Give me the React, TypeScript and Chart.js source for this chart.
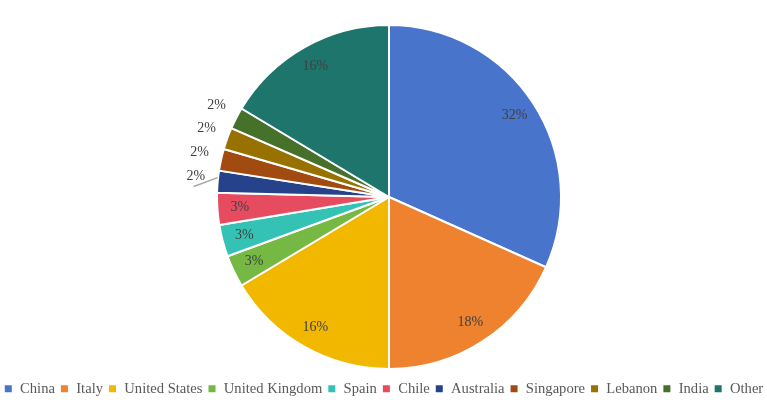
import React, { useEffect, useRef } from "react";
import { Chart, registerables } from "chart.js";

Chart.register(...registerables);

const categories = ["China", "Italy", "United States", "United Kingdom", "Spain", "Chile", "Australia", "Singapore", "Lebanon", "India", "Other"];
const values = [31.7, 18.3, 16.4, 3.0, 3.0, 3.0, 2.05, 2.05, 2.05, 2.05, 16.4];
const labelTexts = ["32%", "18%", "16%", "3%", "3%", "3%", "2%", "2%", "2%", "2%", "16%"];
const outsideLabel = [false, false, false, false, false, false, true, true, true, true, false];
const colors = ["#4874CB", "#EE822F", "#F2B800", "#75B843", "#33C2B4", "#E64B5F", "#25428A", "#A14B10", "#977200", "#46712B", "#1E756C"];

const areaPlugin = {
  id: "pieArea",
  afterLayout(chart: any) {
    const a = chart.chartArea;
    a.left = 11;
    a.right = 767;
    a.top = 24;
    a.bottom = 370;
    a.width = a.right - a.left;
    a.height = a.bottom - a.top;
  },
};

const labelPlugin = {
  id: "sliceLabels",
  afterDatasetsDraw(chart: any) {
    const ctx = chart.ctx;
    const meta = chart.getDatasetMeta(0);
    ctx.save();
    ctx.font = '14px "Liberation Serif", serif';
    ctx.fillStyle = "#404040";
    ctx.textAlign = "center";
    ctx.textBaseline = "middle";
    meta.data.forEach((arc: any, i: number) => {
      const { x, y, startAngle, endAngle, outerRadius } = arc.getProps(["x", "y", "startAngle", "endAngle", "outerRadius"], true);
      const mid = (startAngle + endAngle) / 2;
      const cos = Math.cos(mid);
      const sin = Math.sin(mid);
      if (outsideLabel[i]) {
        const r = outerRadius + 22;
        ctx.fillText(labelTexts[i], x + cos * r, y + sin * r - 3);
        if (i === 6) {
          ctx.strokeStyle = "#A6A6A6";
          ctx.lineWidth = 1.5;
          ctx.beginPath();
          ctx.moveTo(x + cos * outerRadius, y + sin * outerRadius - 4);
          ctx.lineTo(x + cos * (outerRadius + 24), y + sin * (outerRadius + 24) + 7);
          ctx.stroke();
        }
      } else {
        const r = outerRadius * 0.87;
        ctx.fillText(labelTexts[i], x + cos * r, y + sin * r);
      }
    });
    ctx.restore();
  },
};

export default function App() {
  const ref = useRef<HTMLCanvasElement>(null);
  useEffect(() => {
    if (!ref.current) return;
    const chart = new Chart(ref.current, {
      type: "pie",
      data: {
        labels: categories,
        datasets: [
          {
            data: values,
            backgroundColor: colors,
            borderColor: "#FFFFFF",
            borderWidth: 2,
          },
        ],
      },
      options: {
        animation: false,
        responsive: false,
        maintainAspectRatio: false,
        layout: { padding: { top: 0, bottom: 4, left: -12, right: -12 } },
        plugins: {
          tooltip: { enabled: false },
          legend: {
            position: "bottom",
            labels: {
              boxWidth: 9,
              boxHeight: 9,
              padding: 5,
              color: "#595959",
              font: { family: '"Liberation Serif", serif', size: 14.6 },
            },
          },
        },
      },
      plugins: [areaPlugin, labelPlugin],
    });
    return () => chart.destroy();
  }, []);
  return (
    <div style={{ position: "absolute", left: 0, top: 0, width: 767, height: 410, background: "#fff" }}>
      <canvas ref={ref} width={767} height={410} style={{ width: 767, height: 410 }} />
    </div>
  );
}
